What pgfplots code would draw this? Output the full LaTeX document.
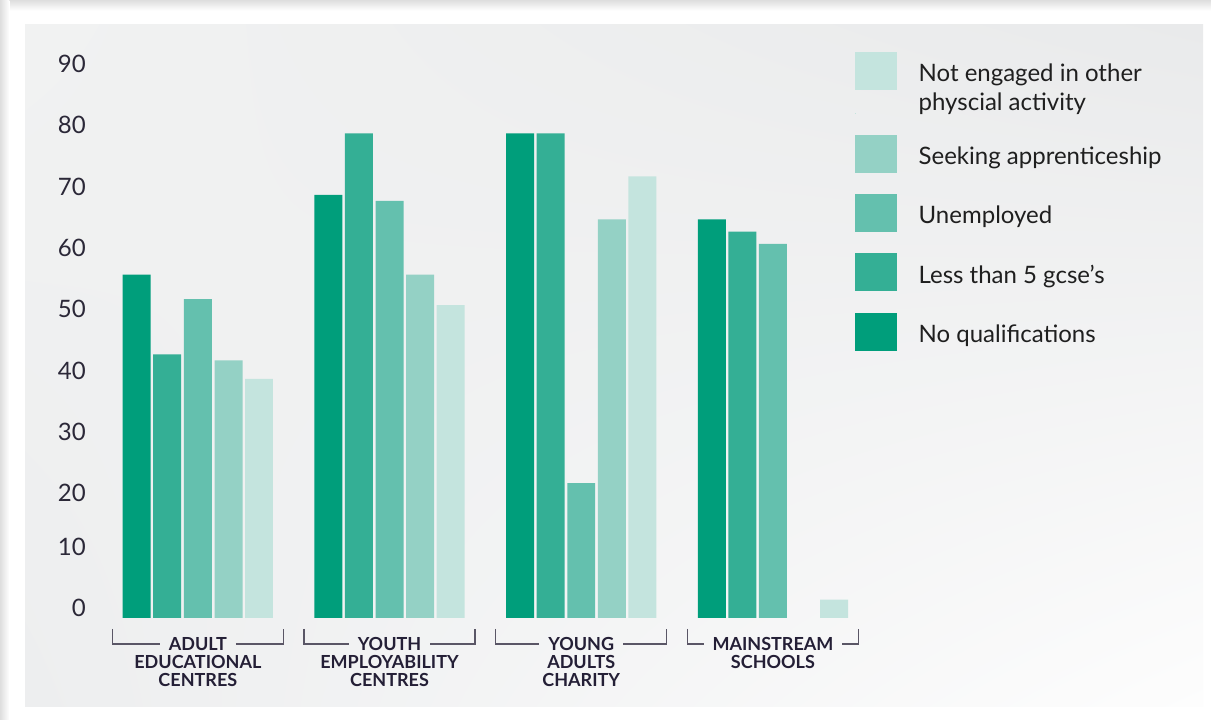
\documentclass[border=0pt]{standalone}
\usepackage{pgfplots}
\pgfplotsset{compat=1.18}
\usetikzlibrary{shadings}
\usepackage{fontspec}
\setmainfont{Lato}
\definecolor{c1}{HTML}{009E7B}
\definecolor{c2}{HTML}{34AF95}
\definecolor{c3}{HTML}{64C0AE}
\definecolor{c4}{HTML}{94D1C5}
\definecolor{c5}{HTML}{C4E4DE}
\definecolor{navy}{HTML}{241F36}
\definecolor{tickc}{HTML}{2B2838}
\definecolor{brk}{HTML}{5A5666}
\definecolor{pUL}{HTML}{F1F2F2}
\definecolor{pUR}{HTML}{E9EAEB}
\definecolor{pLL}{HTML}{EDEEEF}
\definecolor{pLR}{HTML}{FDFDFD}
\newcommand\catfont{\fontsize{13.5}{15}\selectfont\bfseries}
\begin{document}
\begin{tikzpicture}
\useasboundingbox (0,0) rectangle (908.25pt,540pt);
\fill[white] (0,0) rectangle (908.25pt,540pt);
\shade[top color=black!13, bottom color=white] (0,540pt) rectangle (908.25pt,532pt);
\shade[left color=black!13, right color=white] (0,0) rectangle (7pt,540pt);
\fill[white] (7pt,0) rectangle (908.25pt,532pt);
\shade[upper left=pUL, upper right=pUR, lower left=pLL, lower right=pLR] (18.75pt,9.75pt) rectangle (902.25pt,521.25pt);
\begin{axis}[
  at={(76.5pt,76.5pt)}, anchor=south west,
  scale only axis, width=575.1pt, height=414pt,
  xmin=-0.5, xmax=3.5, ymin=0, ymax=90,
  enlargelimits=false, clip=false,
  axis lines=left, axis line style={draw=none},
  xtick=\empty, ytick={0,10,...,90},
  major tick length=0pt, tick style={draw=none},
  /pgf/number format/assume math mode=true,
  yticklabel={\ifnum\ticknum<2 \raisebox{6pt}[\height][\depth]{\pgfmathprintnumber{\tick}}\else\pgfmathprintnumber{\tick}\fi},
  yticklabel style={font=\fontsize{18}{20}\selectfont, text=tickc, anchor=east, inner sep=0pt, xshift=-12pt, yshift=1.5pt},
  reverse legend,
  legend style={at={(0.982,1.0254)}, anchor=north west, draw=none, fill=none,
    inner sep=0pt, outer sep=0pt, row sep=16pt, column sep=14.25pt,
    cells={anchor=base west, inner sep=0pt, text=black!88,
      font=\fontsize{18}{21.75}\selectfont}},
]
\addplot[ybar, bar width=0.146, bar shift=-0.319, fill=c1, draw=none,
  legend image code/.code={\fill[c1] (0pt,-6pt) rectangle (31.5pt,22.5pt);}]
  coordinates {(0,56) (1,69) (2,79) (3,65)};
\addlegendentry{No qualifications}
\addplot[ybar, bar width=0.146, bar shift=-0.160, fill=c2, draw=none,
  legend image code/.code={\fill[c2] (0pt,-6pt) rectangle (31.5pt,22.5pt);}]
  coordinates {(0,43) (1,79) (2,79) (3,63)};
\addlegendentry{Less than 5 gcse's}
\addplot[ybar, bar width=0.146, bar shift=0, fill=c3, draw=none,
  legend image code/.code={\fill[c3] (0pt,-6pt) rectangle (31.5pt,22.5pt);}]
  coordinates {(0,52) (1,68) (2,22) (3,61)};
\addlegendentry{Unemployed}
\addplot[ybar, bar width=0.146, bar shift=0.160, fill=c4, draw=none,
  legend image code/.code={\fill[c4] (0pt,-6pt) rectangle (31.5pt,22.5pt);}]
  coordinates {(0,42) (1,56) (2,65)};
\addlegendentry{Seeking apprenticeship}
\addplot[ybar, bar width=0.146, bar shift=0.319, fill=c5, draw=none,
  legend image code/.code={\fill[c5] (0pt,-6pt) rectangle (31.5pt,22.5pt);
    \path (0pt,-23.4pt) rectangle (1pt,-23pt);}]
  coordinates {(0,39) (1,51) (2,72) (3,3)};
\addlegendentry{\vtop{\hbox{Not engaged in other}\hbox{physcial activity}}}

% category labels with brackets
\node[font=\catfont, text=navy, inner sep=0pt] (t0) at (axis cs:0,-4.24) {ADULT};
\node[font=\catfont, text=navy, inner sep=0pt] at (axis cs:0,-7.17) {EDUCATIONAL};
\node[font=\catfont, text=navy, inner sep=0pt] at (axis cs:0,-10.11) {CENTRES};
\node[font=\catfont, text=navy, inner sep=0pt] (t1) at (axis cs:1,-4.24) {YOUTH};
\node[font=\catfont, text=navy, inner sep=0pt] at (axis cs:1,-7.17) {EMPLOYABILITY};
\node[font=\catfont, text=navy, inner sep=0pt] at (axis cs:1,-10.11) {CENTRES};
\node[font=\catfont, text=navy, inner sep=0pt] (t2) at (axis cs:2,-4.24) {YOUNG};
\node[font=\catfont, text=navy, inner sep=0pt] at (axis cs:2,-7.17) {ADULTS};
\node[font=\catfont, text=navy, inner sep=0pt] at (axis cs:2,-10.11) {CHARITY};
\node[font=\catfont, text=navy, inner sep=0pt] (t3) at (axis cs:3,-4.24) {MAINSTREAM};
\node[font=\catfont, text=navy, inner sep=0pt] at (axis cs:3,-7.17) {SCHOOLS};
\foreach \i in {0,1,2,3} {
  \edef\tmp{\noexpand\draw[brk, line width=0.9pt] (axis cs:\i-0.446,-1.79) |- ([xshift=-6.5pt]t\i.west);
    \noexpand\draw[brk, line width=0.9pt] ([xshift=6.5pt]t\i.east) -| (axis cs:\i+0.446,-1.79);}
  \tmp
}
\end{axis}
\end{tikzpicture}
\end{document}
